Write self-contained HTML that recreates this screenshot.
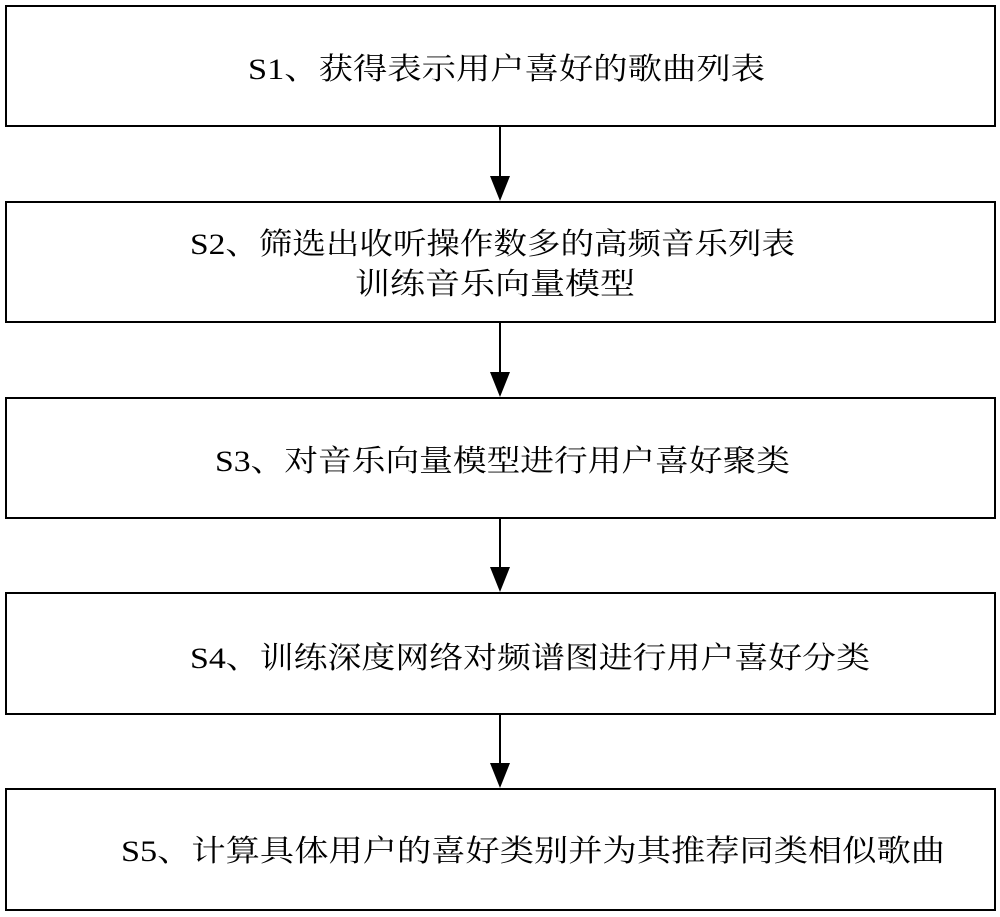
<!DOCTYPE html>
<html><head><meta charset="utf-8"><style>
html,body{margin:0;padding:0;background:#fff;}
svg{display:block}
text{font-family:"Liberation Serif","Noto Serif CJK SC","Noto Sans CJK SC",serif;font-size:30px;fill:#000}
</style></head><body>
<svg width="1000" height="917" viewBox="0 0 1000 917">
<defs><marker id="a" markerWidth="10" markerHeight="10" refX="5" refY="10" orient="auto" markerUnits="userSpaceOnUse" viewBox="0 0 10 10"><path d="M0,0 L10,0 L5,10 Z" fill="#000"/></marker></defs>
<g fill="none" stroke="#000" stroke-width="2">
<rect x="6" y="6" width="989" height="120"/>
<rect x="6" y="202" width="989" height="120"/>
<rect x="6" y="398" width="989" height="120"/>
<rect x="6" y="593" width="989" height="121"/>
<rect x="6" y="789" width="989" height="121"/>
</g>
<g stroke="#000" stroke-width="2">
<line x1="500" y1="126" x2="500" y2="178"/><path d="M490,176 L510,176 L500,201 Z" fill="#000" stroke="none"/>
<line x1="500" y1="322" x2="500" y2="374"/><path d="M490,372 L510,372 L500,397 Z" fill="#000" stroke="none"/>
<line x1="500" y1="518" x2="500" y2="569"/><path d="M490,567 L510,567 L500,592 Z" fill="#000" stroke="none"/>
<line x1="500" y1="714" x2="500" y2="765"/><path d="M490,763 L510,763 L500,788 Z" fill="#000" stroke="none"/>
</g>
<text x="248" y="79" textLength="517" lengthAdjust="spacingAndGlyphs">S1、获得表示用户喜好的歌曲列表</text>
<text x="190" y="254" textLength="605" lengthAdjust="spacingAndGlyphs">S2、筛选出收听操作数多的高频音乐列表</text>
<text x="355" y="294" textLength="280" lengthAdjust="spacingAndGlyphs">训练音乐向量模型</text>
<text x="215" y="471" textLength="575" lengthAdjust="spacingAndGlyphs">S3、对音乐向量模型进行用户喜好聚类</text>
<text x="190" y="668" textLength="680" lengthAdjust="spacingAndGlyphs">S4、训练深度网络对频谱图进行用户喜好分类</text>
<text x="121" y="861" textLength="824" lengthAdjust="spacingAndGlyphs">S5、计算具体用户的喜好类别并为其推荐同类相似歌曲</text>
</svg>
</body></html>
